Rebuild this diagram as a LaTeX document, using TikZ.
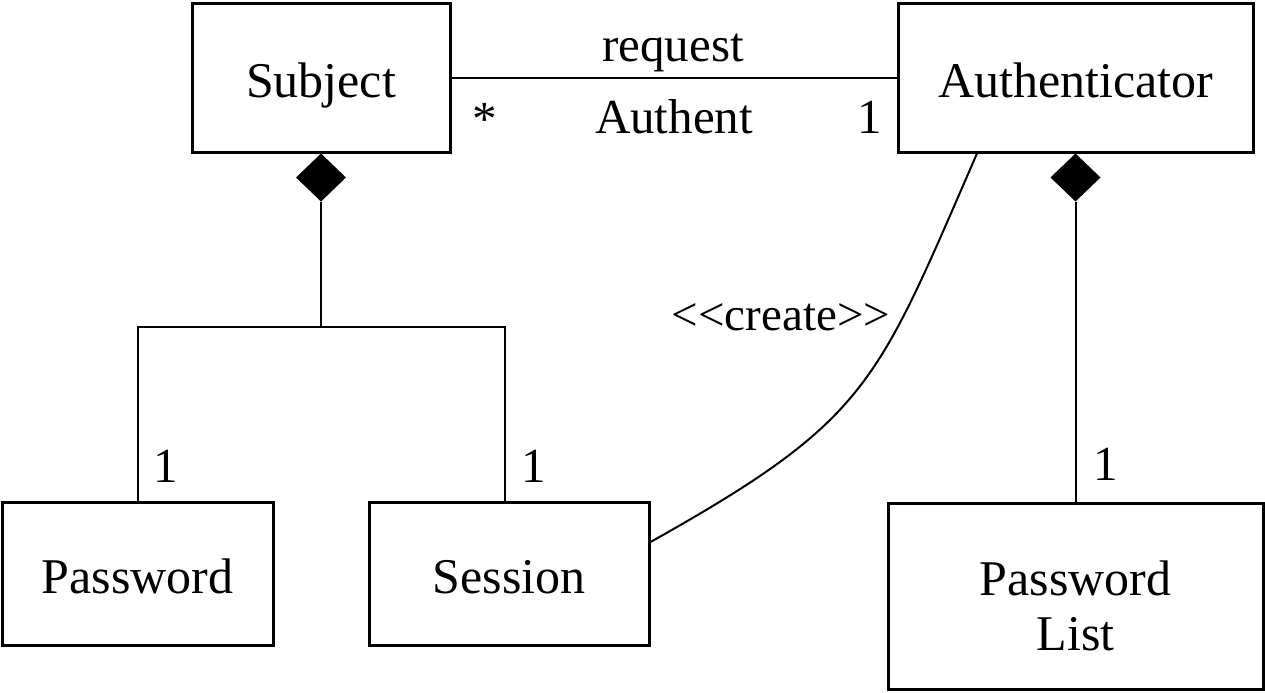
\documentclass[tikz,border=0pt]{standalone}
\usepackage{fontspec}
\setmainfont{Liberation Serif}[Ligatures=TeXOff]
\usepackage{tikz}
\usetikzlibrary{shapes.geometric}

\tikzset{
	classbox/.style={draw, line width=1.5pt, inner sep=0pt, text height=20pt, text depth=0pt, font=\fontsize{25}{27.5}\selectfont},
	compdiamond/.style={diamond, fill=black, inner sep=0pt, outer sep=0pt, minimum width=25pt, minimum height=24pt, anchor=north},
	mult/.style={anchor=base, inner sep=0pt, font=\fontsize{24.5}{27}\selectfont},
}

\begin{document}
\begin{tikzpicture}[x=0.5pt, y=-0.5pt, line width=1pt]
		\useasboundingbox (0,0) rectangle (1265,692);

		\node [classbox, minimum width=129pt, minimum height=74.5pt] (subject) at (321,77.5) {Subject};
		\node [classbox, minimum width=177.5pt, minimum height=74.5pt] (auth) at (1075.5,77.5) {Authenticator};
		\node [classbox, minimum width=135.5pt, minimum height=71.5pt] (pw) at (137.5,573.5) {Password};
		\node [classbox, minimum width=140pt, minimum height=71.5pt] (sess) at (509,573.5) {Session};
		\node [classbox, minimum width=187.5pt, minimum height=93pt, text height=18pt, text depth=19pt] (pwlist) at (1075.5,596)
			{\begin{tabular}[t]{@{}c@{}}Password\\List\end{tabular}};

		\node [compdiamond] (subjdia) at (subject.south) {};
		\node [compdiamond] (authdia) at (auth.south) {};

		\begin{scope}
			\draw (subject.east) -- (auth.west);
			\node [mult] (req) at (673,61) {request};
			\node [mult] (authent) at (674,133) {Authent};
			\node [mult] (manysubj) at (485,135) {*};
			\node [mult] (oneauth) at (870,133) {1};
		\end{scope}

		\begin{scope}
			\coordinate (fork) at (321,327);
			\draw (subjdia.south) -- (fork);
			\draw (pw.north) |- (fork);
			\draw ([xshift=-2pt]sess.north) |- (fork);
			\node [mult] (onepw) at (166,482) {1};
			\node [mult] (onesess) at (534,482) {1};
		\end{scope}

		\draw (authdia.south) -- (pwlist.north);
		\node [mult] (onelist) at (1106,480) {1};

		\draw ([xshift=-49.25pt]auth.south) .. controls (876,385) and (870,419) .. ([yshift=15.75pt]sess.east);
		\node [mult, font=\fontsize{23.5}{26}\selectfont] (create) at (781,330) {<<create>>};
	\end{tikzpicture}
\end{document}
